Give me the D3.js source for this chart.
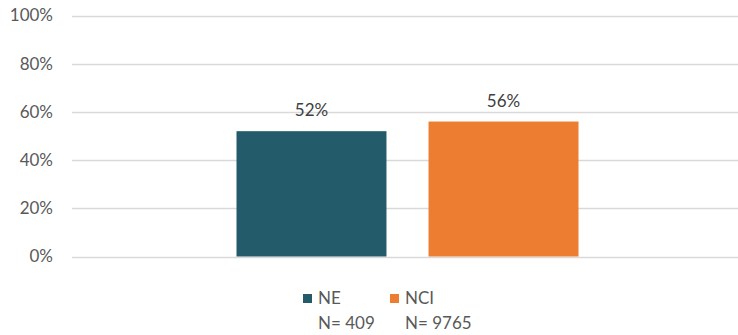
<!DOCTYPE html>
<html><head><meta charset="utf-8">
<script src="https://cdn.jsdelivr.net/npm/d3@7/dist/d3.min.js"></script>
<style>body{margin:0;background:#fff}svg{display:block}text{font-family:Lato,"Open Sans",sans-serif}</style>
</head><body>
<svg id="c" width="738" height="335"></svg>
<script>
const series = ["NE", "NCI"];
const values = [0.52, 0.56];
const counts = ["N= 409", "N= 9765"];
const colors = ["#235B6B", "#ED7D31"];
const yTicks = [0, 0.2, 0.4, 0.6, 0.8, 1.0];

const svg = d3.select("#c");
const mLeft = 72, mRight = 740, mTop = 15.5, mBottom = 256.5;
const y = d3.scaleLinear().domain([0, 1]).range([mBottom, mTop]);
const x0 = d3.scaleBand().domain(["g"]).range([mLeft, mRight]).paddingOuter(0.4766).paddingInner(0);
const x = d3.scaleBand().domain(series).range([x0("g")+1.5, x0("g")+x0.bandwidth()+1.5]).paddingInner(0.219).paddingOuter(0);

// gridlines
svg.append("g").selectAll("line").data(yTicks).join("line")
  .attr("x1", mLeft).attr("x2", mRight)
  .attr("y1", d => Math.round(y(d))+0.5).attr("y2", d => Math.round(y(d))+0.5)
  .attr("stroke", "#d9d9d9").attr("stroke-width", 1.3);

// y axis labels
const yAxis = d3.axisLeft(y).tickValues(yTicks).tickFormat(d3.format(".0%")).tickSize(0).tickPadding(0);
const ga = svg.append("g").attr("transform", `translate(53,0)`).call(yAxis);
ga.select(".domain").remove();
ga.selectAll("text").attr("fill", "#595959").style("font-size", "17px").style("font-family", "Lato");

// bars
svg.append("g").selectAll("rect").data(series).join("rect")
  .attr("x", d => x(d)).attr("width", x.bandwidth())
  .attr("y", (d,i) => y(values[i])).attr("height", (d,i) => y(0) - y(values[i]))
  .attr("fill", (d,i) => colors[i]);

// value labels
svg.append("g").selectAll("text").data(series).join("text")
  .attr("x", d => x(d) + x.bandwidth()/2)
  .attr("y", (d,i) => y(values[i]) - 15)
  .attr("text-anchor", "middle").attr("fill", "#404040").style("font-size", "17px")
  .text((d,i) => d3.format(".0%")(values[i]));

// legend
const lx = [303, 390];
const lg = svg.append("g");
series.forEach((s, i) => {
  lg.append("rect").attr("x", lx[i]).attr("y", 294).attr("width", 9).attr("height", 9).attr("fill", colors[i]);
  lg.append("text").attr("x", lx[i] + 15).attr("y", 303.5).attr("fill", "#595959").style("font-size", "17px").text(s);
  lg.append("text").attr("x", lx[i] + 15).attr("y", 328.5).attr("fill", "#595959").style("font-size", "17px").text(counts[i]);
});
</script>
</body></html>
